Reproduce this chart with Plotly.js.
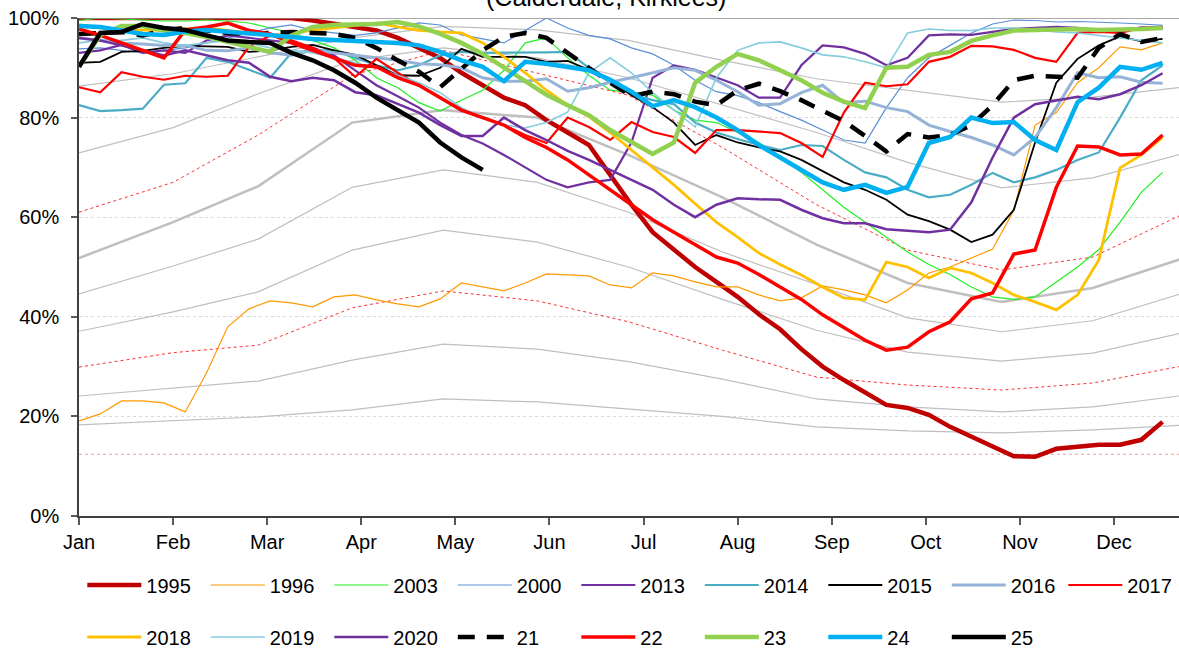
<!DOCTYPE html>
<html>
<head>
<meta charset="utf-8">
<script src="https://cdn.plot.ly/plotly-3.0.1.min.js"></script>
<style>
  html, body { margin: 0; padding: 0; background: #fff; }
  #chart { width: 1179px; height: 655px; }
</style>
</head>
<body>
<div id="chart"></div>
<script>
// weekly stock, % full (first reading 1 Jan, then every 7 days)
var y1995 = [100,100,100,100,100,100,100,100,100,100,100,99.5,98.8,98,97.5,96,94,92,89,86.5,84,82.5,79.5,77,74.5,68.5,62.5,57,53.5,50,47,44,40.5,37.5,33.5,30,27.3,24.7,22.3,21.7,20.3,17.9,15.9,13.9,12,11.9,13.5,13.9,14.3,14.3,15.3,18.9];
var y1996 = [19.1,20.5,23.1,23.1,22.7,20.9,28.7,38,41.6,43.2,42.8,42,44,44.4,43.4,42.6,42,43.6,46.8,46,45.2,46.8,48.6,48.4,48.2,46.4,45.8,48.8,48.2,47,46,46,44.4,43.2,43.8,46.2,45.4,44.4,42.8,45.4,48.8,50,51.8,53.6,61.4,78.5,81,87,90,94.2,93.6,95];
var y2003 = [99.5,100,99.8,99.6,99.4,99.4,99.6,99.4,99,98,97,95.5,94,91.5,88,86,83,81.3,83.5,85.5,89.5,95,96,92,88.5,85.5,85,84.5,81.5,79.5,79,77,75,72,69,65.5,62,59,56,53,50.5,48.5,46,44,43.5,44,47,50,53.5,59,65,69];
var y2000 = [93.8,94,93.5,93,93.5,94,95,96,97,98,98.6,97.5,97,96.5,97,98,99,98.6,96.6,95.8,95,97.5,100,98,96.5,95.8,94,92.8,90.5,87.5,85.2,84.4,83,81.2,79.5,77.5,75.5,74.9,82,88,92,94.5,97,98.8,99.6,99.5,99.2,99.3,99.2,99,98.8,98.5];
var y2013 = [93,93.5,94.6,93,93.5,93,95.5,96.5,96,95.5,95,94,92.5,89.5,86.5,84.3,82,79,76.5,74.8,72.5,70,67.5,66,67,67.5,75,88,90.5,89.6,88,86.5,84,84,90.5,94.5,94.1,92.8,90.5,92,96.5,96.7,96.6,97.2,97.8,98,98.2,98,97.5,97.4,98.1,98];
var y2014 = [82.5,81.3,81.5,81.8,86.6,86.9,92,91.2,89.6,88,93,93.5,93.5,92,90.5,89.5,90.5,92.5,93.2,93,93,93,93.1,93.2,90,87,84.7,83.5,82.7,79,77,75.7,74.5,73.5,74.5,74.3,71.5,69,68,65.5,64,64.5,66.5,68.9,67,68,69.5,71.5,73,80,87.5,90.5];
var y2015 = [91,91.2,93.2,93.4,94,94.4,94.3,94.2,93.2,93.5,94.2,94.6,93.5,92.6,90.5,88.5,88.4,90,93.8,92.2,92.2,92.2,91.2,91.4,89.6,87.5,84.5,82.1,79,74.5,76.5,75,74,73.2,71.5,69.3,67,65.5,63.5,60.5,59.2,57.5,55,56.5,61.5,75,87,91.8,94.5,96.3,95.3,95.8];
var y2016 = [96,95.5,95,94.8,94.5,94.5,93.5,93.4,94,93,92.5,93.5,93,92.5,92,91.5,90.8,90.6,90,88,87.3,87.3,87.8,85.3,86,87.1,88,89,90,89.5,87.5,85.2,82.5,82.8,85,86.5,83,83.3,82,81.2,78.5,77.2,76,74.5,72.5,76,82,89,88,88.2,87.1,86.9];
var y2017 = [86.1,85.1,89.1,88.2,87.6,88.4,88.2,88.4,94.2,96.5,95.5,94,92,88.2,91.8,89,86.5,84,81.5,80,78.5,76.5,74.9,80,78.1,75.5,79.1,77.1,76.1,72.9,77.5,77.5,77.2,76.9,74.9,72.1,81,87,86.3,86.7,91.2,92.2,94.4,94.3,93.6,92,91.2,97,97.2,97,98,98.2];
var y2018 = [98.6,98,97.6,97.5,97.5,97.8,98,97.5,97,96.5,97,97.5,98,98.5,99,98.2,97.5,97.2,97,95,92.2,89,85.5,82.5,80.2,77,73.5,70,66.5,62.7,59,56,52.8,50.5,48.4,46,43.8,43.4,51,50,47.8,49.8,48.8,46.8,44.4,43,41.4,44.4,51.4,69.9,72.5,76];
var y2019 = [95,95.5,95.5,96,95,94.5,95,95.5,95,94,93.5,93,92,91,90,88.5,87,85,82,80,78.5,77.9,79,81.1,89,92,89,85,81.5,78.1,88,93.5,95,95.2,94,92.6,92.2,91.2,90,97,97.8,97.5,97.5,98,98,97.6,97.2,97,96.5,96,95.5,95];
var y2020 = [96,95.5,94.5,93.5,92.5,93.5,92.5,91.5,91,88.2,87.3,88,87.5,85.1,84.5,82.7,81,78.5,76.3,76.3,80,77.5,75.5,73.3,71.5,69.5,67.5,65.5,62.5,60,62.5,63.8,63.6,63.5,61.5,59.8,58.8,58.8,57.6,57.3,57,57.5,63,72,80,82.7,83.5,84.2,83.7,84.7,86.5,88.9];
var y21 = [96.8,97,97.2,96.5,97.5,98,97.5,97,96.8,97,97.2,97,96.8,96,94,91.5,89.2,86.1,89.8,93.5,96.2,97,96,93,90,87,84.3,85.2,84.7,83.2,82.5,85.5,86.8,85.3,83.5,81.5,79.3,76.3,73.2,76.7,76,76.5,78.5,82.5,87.5,88.4,88.1,88,94,96.8,95.2,96];
var y22 = [97.8,96.5,95,93.5,92,97.6,98.2,99,97.5,96.8,95,93.5,92,90.5,90.2,88,86.5,84,81.5,80,78.5,76,74,71.5,68.5,65.5,62.5,59.5,57,54.4,52,50.8,48.5,46,43.5,40.4,37.8,35.3,33.3,33.9,37,39,43.6,44.8,52.6,53.4,66,74.3,74.1,72.5,72.7,76.5];
var y23 = [90.2,96.6,98.4,98.4,97.5,97,96.2,95.2,94,93.2,96.5,98.2,98.6,98.6,98.8,99.2,98.3,96.8,95,92.8,90,87.3,84.6,82.5,80.5,77.5,75,72.7,75,87,90.2,92.8,91.5,89.5,87.5,85,83.2,81.9,90,90.2,92.6,93.2,95.4,96.5,97.5,97.6,97.8,97.8,97.6,97.6,97.8,98];
var y24 = [98.4,98.2,97.5,96.8,96.6,97.3,97.6,97.3,97,96.6,96.2,95.8,95.6,95.2,95,95,94.5,93.2,91.5,90.2,87.3,91.2,90.8,90.2,89.5,87.6,85.2,82.3,83.5,82.1,80,77.5,74.5,72,69.5,67,65.5,66.5,64.9,66.1,74.9,76.1,80,78.9,79.1,75.5,73.5,83.1,86,90.2,89.6,91];
var y25 = [90.2,97,97.2,98.8,98,97.6,96.5,95.5,95.2,95,93,91.5,89.5,87,84,81.5,79,75,72,69.5];

// long-term reference curves, one value on the 1st of each month (last = 1 Jan next year)
var monthStarts = ['2001-01-01','2001-02-01','2001-03-01','2001-04-01','2001-05-01','2001-06-01','2001-07-01','2001-08-01','2001-09-01','2001-10-01','2001-11-01','2001-12-01','2002-01-01'];
var refHigh   = [86.3,88.8,92.2,96,98.3,97.6,95.5,91.5,87.8,85.5,83.1,84.1,86.2];
var refUpper  = [72.9,78,84.8,91.5,94,92,88,82.5,77,71,65.9,67.9,73];
var refRed1   = [61,67,76.5,88.5,93.5,89,84.5,74,62.5,53.4,49.4,52,61];
var refMedian = [51.8,59,66.2,79,81.5,80,72.5,64,54.5,46.8,43,45.8,52];
var refQ1     = [44.6,50.2,55.6,66,69.5,67,61,53,46.5,39.8,37,39.2,45];
var refQ2     = [37.1,41,45,53.4,57.4,55,50,43.5,37.3,32.9,31.1,32.7,37];
var refRed2   = [29.9,32.8,34.3,41.8,45.2,43.2,39,33.3,27.9,26.3,25.3,26.7,30.3];
var refLow1   = [24.1,25.7,27.1,31.3,34.5,33.5,31,27.5,23.5,21.9,20.9,21.9,24.3];
var refLow2   = [18.3,19.2,19.9,21.3,23.5,22.9,21.5,20,17.9,17.1,16.7,17.3,18.3];
var refFloor  = [12.4,12.4,12.4,12.4,12.4,12.4,12.4,12.4,12.4,12.4,12.4,12.4,12.4];

// axis ticks every 31 days, labelled by month
var tickDates = ['2001-01-01','2001-02-01','2001-03-04','2001-04-04','2001-05-05','2001-06-05','2001-07-06','2001-08-06','2001-09-06','2001-10-07','2001-11-07','2001-12-08'];
var tickNames = ['Jan','Feb','Mar','Apr','May','Jun','Jul','Aug','Sep','Oct','Nov','Dec'];

function weekDates(n) {
    var out = [];
    for (var i = 0; i < n; i++) {
        out.push(new Date(Date.UTC(2001, 0, 1 + 7 * i)).toISOString().slice(0, 10));
    }
    return out;
}

var traces = [];

function refLine(vals, color, width, dash) {
    traces.push({
        x: monthStarts, y: vals,
        type: 'scatter', mode: 'lines',
        line: {color: color, width: width, dash: dash || 'solid'},
        showlegend: false, hoverinfo: 'skip'
    });
}

function yearLine(name, vals, color, width, row, dash) {
    traces.push({
        x: weekDates(vals.length), y: vals,
        name: name, type: 'scatter', mode: 'lines',
        line: {color: color, width: width, dash: dash || 'solid'},
        legend: row, hoverinfo: 'skip'
    });
}

refLine(refHigh, '#BFBFBF', 1.2);
refLine(refUpper, '#BFBFBF', 1.2);
refLine(refRed1, '#FF3030', 1, 'dot');
refLine(refMedian, '#BFBFBF', 2.5);
refLine(refQ1, '#BFBFBF', 1.2);
refLine(refQ2, '#BFBFBF', 1.2);
refLine(refRed2, '#FF3030', 1, 'dot');
refLine(refLow1, '#BFBFBF', 1.2);
refLine(refLow2, '#BFBFBF', 1.2);
refLine(refFloor, '#FF9999', 1, 'dot');

yearLine('1995', y1995, '#C00000', 4.5, 'legend');
yearLine('1996', y1996, '#FF9900', 1.2, 'legend');
yearLine('2003', y2003, '#22EE22', 1.2, 'legend');
yearLine('2000', y2000, '#5B8FD6', 1.2, 'legend');
yearLine('2013', y2013, '#7030A0', 2.2, 'legend');
yearLine('2014', y2014, '#4BACC6', 2.2, 'legend');
yearLine('2015', y2015, '#000000', 1.8, 'legend');
yearLine('2016', y2016, '#95B3D7', 3, 'legend');
yearLine('2017', y2017, '#FF0000', 2.2, 'legend3');
yearLine('2018', y2018, '#FFC000', 2.8, 'legend2');
yearLine('2019', y2019, '#86CCE0', 1.6, 'legend2');
yearLine('2020', y2020, '#7030A0', 2.5, 'legend2');
yearLine('21', y21, '#000000', 4.5, 'legend2', '17px,12px');
yearLine('22', y22, '#FF0000', 3.5, 'legend2');
yearLine('23', y23, '#92D050', 4.5, 'legend2');
yearLine('24', y24, '#00B0F0', 4.5, 'legend2');
yearLine('25', y25, '#000000', 4.5, 'legend2');

var font = {family: 'Liberation Sans, Arial, sans-serif', size: 20, color: '#000'};
var legendBase = {
    orientation: 'h', xanchor: 'left', yanchor: 'middle', x: 0.003,
    font: {family: font.family, size: 20, color: '#000'},
    itemwidth: 54, entrywidth: 54.5, entrywidthmode: 'pixels',
    bgcolor: 'rgba(0,0,0,0)', traceorder: 'normal', tracegroupgap: 0
};

var layout = {
    width: 1179, height: 655,
    margin: {l: 79, r: 0, t: 18, b: 139, autoexpand: false},
    paper_bgcolor: '#fff', plot_bgcolor: '#fff',
    font: font,
    showlegend: true,
    xaxis: {
        type: 'date',
        range: ['2001-01-01', '2001-12-29 10:00'],
        tickvals: tickDates, ticktext: tickNames,
        ticks: 'outside', ticklen: 7, tickwidth: 1.5, tickcolor: '#595959',
        showline: true, linecolor: '#404040', linewidth: 1.5,
        showgrid: false, zeroline: false,
        tickfont: font
    },
    yaxis: {
        range: [0, 100],
        tickvals: [0, 20, 40, 60, 80, 100],
        ticktext: ['0%', '20%', '40%', '60%', '80%', '100%'],
        ticks: 'outside', ticklen: 6, tickwidth: 1.5, tickcolor: '#595959',
        ticklabelstandoff: 8,
        showline: true, linecolor: '#404040', linewidth: 1.5,
        showgrid: true, gridcolor: '#D9D9D9', griddash: 'dot', gridwidth: 1,
        zeroline: false,
        tickfont: font
    },
    legend: Object.assign({}, legendBase, {y: -0.1386}),
    legend3: Object.assign({}, legendBase, {y: -0.1386, x: 0.8948, entrywidth: 40}),
    legend2: Object.assign({}, legendBase, {y: -0.243}),
    shapes: [{
        type: 'line', xref: 'paper', yref: 'y',
        x0: 0, x1: 1, y0: 100, y1: 100,
        line: {color: '#8C8C8C', width: 1.5}
    }],
    annotations: [{
        text: '(Calderdale, Kirklees)',
        xref: 'paper', yref: 'paper', x: 0.479, y: 1.0,
        xanchor: 'center', yanchor: 'bottom', yshift: 5,
        showarrow: false,
        font: {family: font.family, size: 25, color: '#000'}
    }]
};

Plotly.newPlot('chart', traces, layout, {displayModeBar: false, responsive: false});
</script>
</body>
</html>
